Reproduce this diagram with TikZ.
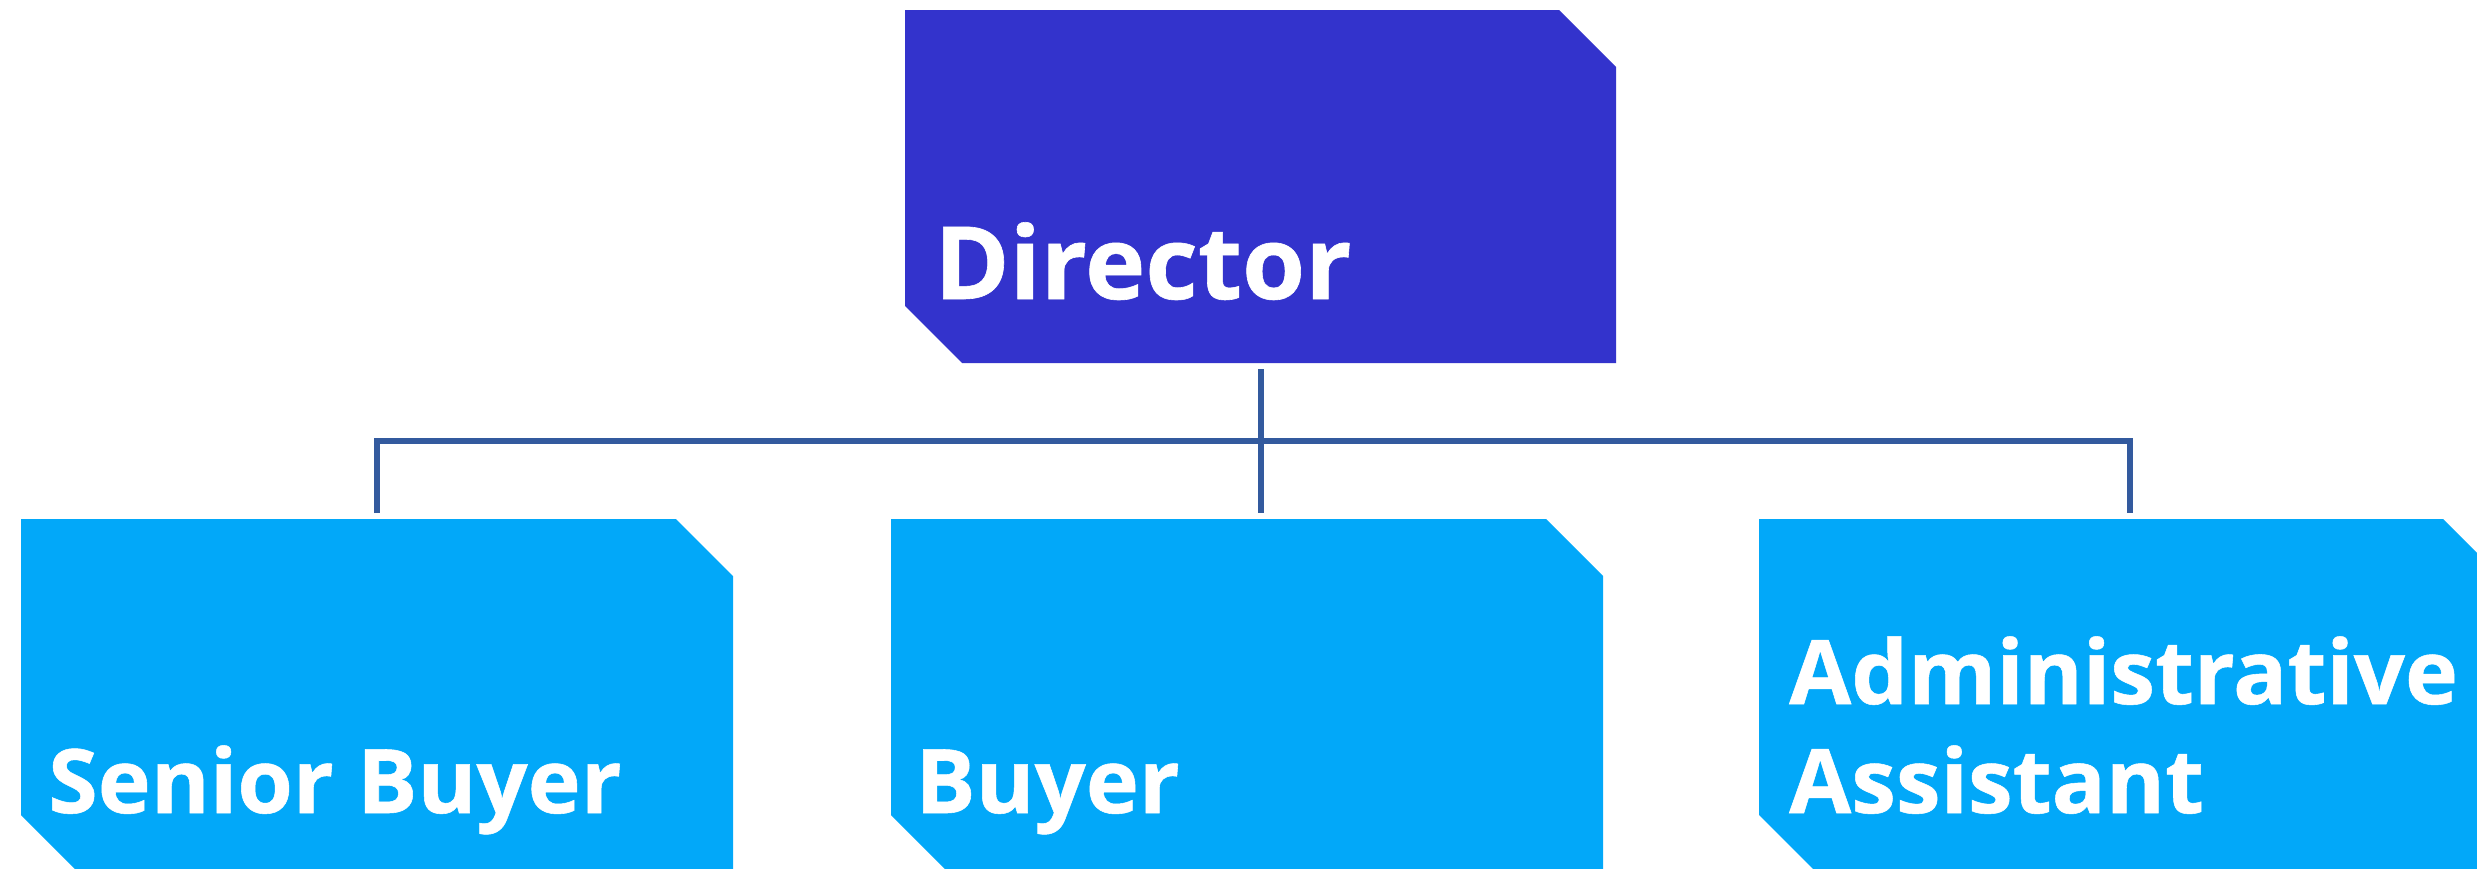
\documentclass[tikz,border=0pt]{standalone}
\usepackage{fontspec}
\setmainfont{Open Sans}[BoldFeatures={FakeStretch=1.01,FakeBold=0.6}]
\definecolor{dirblue}{HTML}{3333CC}
\definecolor{boxblue}{HTML}{02A8F9}
\definecolor{linkblue}{HTML}{335A9E}
\newcommand\chamferbox[2]{\fill[#2] (#1.north west) -- ([xshift=-57pt]#1.north east) -- ([yshift=-57pt]#1.north east) -- (#1.south east) -- ([xshift=57pt]#1.south west) -- ([yshift=57pt]#1.south west) -- cycle;}
\begin{document}
\begin{tikzpicture}[x=1pt,y=-1pt,
  anchorbox/.style={rectangle, inner sep=0pt, outer sep=0pt, minimum height=353pt},
  boxtext/.style={anchor=base west, inner sep=0pt, text=white, font=\bfseries\fontsize{89}{109}\selectfont},
  dirtext/.style={anchor=base west, inner sep=0pt, text=white, font=\bfseries\fontsize{101}{120}\selectfont},
  conn/.style={draw=linkblue, line width=6pt, line join=miter}]
\useasboundingbox (0,0) rectangle (2477,868);
\fill[white] (0,0) rectangle (2477,868);
\clip (0,0) rectangle (2477,868);
% box anchors
\node[anchorbox, minimum width=711pt] (dir) at (1260.5,186.5) {};
\node[anchorbox, minimum width=712pt] (sen) at (377,695.5) {};
\node[anchorbox, minimum width=712pt] (buy) at (1247,695.5) {};
\node[anchorbox, minimum width=741pt] (adm) at (2129.5,695.5) {};
% box fills
\chamferbox{dir}{dirblue}
\chamferbox{sen}{boxblue}
\chamferbox{buy}{boxblue}
\chamferbox{adm}{boxblue}
% texts
\node[dirtext] (dirt) at (934,299) {Director};
\node[boxtext] (sent) at (48,813) {Senior Buyer};
\node[boxtext] (buyt) at (915,813) {Buyer};
\node[boxtext] (admt1) at (1789,704) {Administrative};
\node[boxtext] (admt2) at (1789,813) {Assistant};
% connectors
\coordinate (bus) at (0,441);
\draw[conn, shorten <=6pt, shorten >=6pt] (dir.south) -- (dir.south |- buy.north);
\draw[conn, shorten <=6pt, shorten >=6pt] (sen.north) |- (adm.north |- bus) -- (adm.north);
\end{tikzpicture}
\end{document}
